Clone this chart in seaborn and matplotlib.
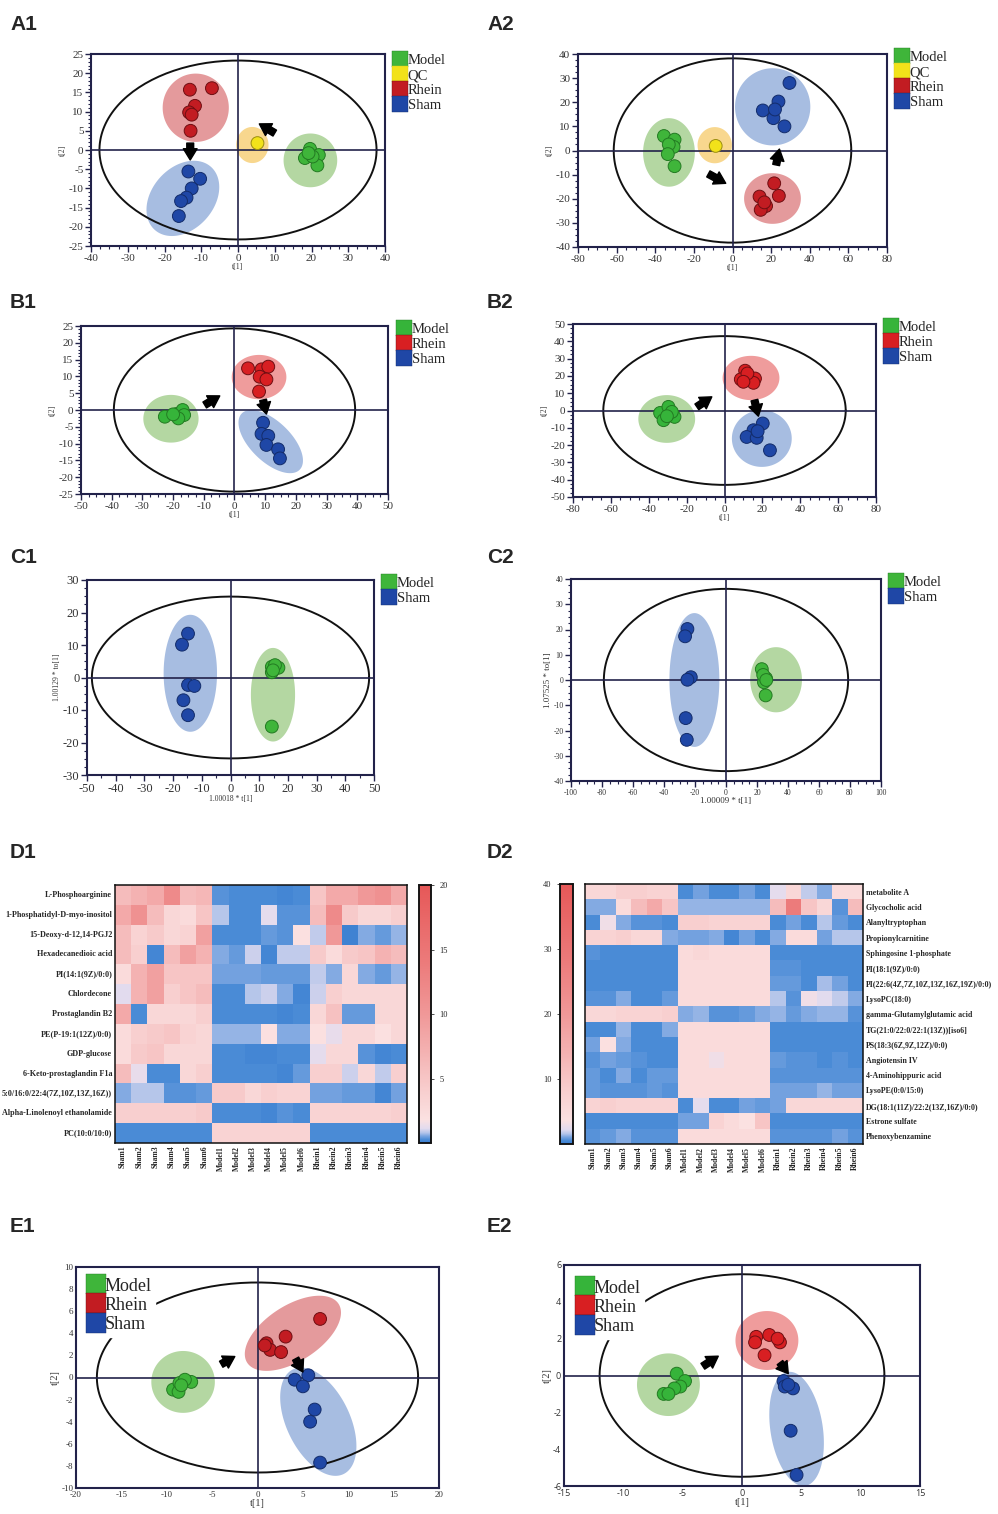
import numpy as np
import pandas as pd
import matplotlib
matplotlib.use("Agg")
import matplotlib.pyplot as plt
import seaborn as sns
from matplotlib.lines import Line2D
from matplotlib.colors import LinearSegmentedColormap
from matplotlib.ticker import MultipleLocator

sns.set_theme(style="white")
plt.rcParams["font.family"] = ["Liberation Serif", "DejaVu Serif"]
plt.rcParams["axes.unicode_minus"] = False

# ---------------- DATA ----------------
# score plots: (t1 values, t2 values)
a1_model = ([19.6, 22.0, 18.2, 21.6, 20.3, 19.2], [0.3, -1.3, -2.1, -4.0, -1.7, -0.8])
a1_qc = ([5.3], [1.8])
a1_rhein = ([-13.1, -7.1, -11.7, -13.3, -12.6, -12.9], [15.7, 16.1, 11.5, 9.8, 9.2, 5.0])
a1_sham = ([-13.5, -10.3, -12.6, -14.0, -15.5, -16.1], [-5.6, -7.5, -10.0, -12.4, -13.3, -17.2])

a2_model = ([-35.5, -30.0, -30.5, -33.0, -33.5, -30.0], [6.0, 4.5, 1.5, 2.5, -1.5, -6.5])
a2_qc = ([-8.7], [1.9])
a2_rhein = ([21.6, 14.0, 24.0, 17.4, 14.6, 16.5], [-13.6, -19.1, -18.8, -23.0, -24.6, -21.5])
a2_sham = ([29.5, 23.8, 15.7, 21.2, 26.9, 22.0], [28.0, 20.3, 16.6, 13.4, 10.0, 17.0])

b1_model = ([-22.7, -18.9, -16.9, -16.4, -18.3, -20.0], [-2.0, -1.2, 0.0, -1.5, -2.5, -1.3])
b1_rhein = ([4.4, 8.8, 11.0, 8.2, 10.4, 8.0], [12.4, 12.1, 12.9, 9.9, 9.1, 5.5])
b1_sham = ([9.3, 8.8, 11.0, 10.4, 14.2, 14.8], [-3.8, -7.1, -7.7, -10.4, -11.7, -14.4])

b2_model = ([-34.0, -29.6, -26.4, -32.2, -27.8, -30.4], [-1.4, 2.1, -3.7, -5.6, -0.8, -3.3])
b2_rhein = ([10.9, 8.6, 16.1, 15.3, 12.1, 10.0], [23.0, 18.0, 18.5, 16.0, 21.4, 16.6])
b2_sham = ([20.2, 15.3, 11.7, 17.0, 24.0, 17.5], [-7.5, -11.4, -15.3, -15.8, -23.0, -12.0])

c1_model = ([14.4, 16.7, 14.4, 15.5, 14.8, 14.4], [3.3, 3.0, 1.6, 3.8, 2.2, -15.1])
c1_sham = ([-14.8, -16.9, -14.8, -12.6, -16.4, -14.8], [13.5, 10.1, -2.3, -2.6, -7.0, -11.6])

c2_model = ([23.1, 25.8, 24.5, 25.6, 24.0, 26.0], [4.3, 0.7, -0.9, -6.1, 2.0, 0.0])
c2_sham = ([-24.9, -26.4, -22.7, -24.9, -26.0, -25.3], [20.2, 17.3, 1.1, 0.1, -15.1, -23.7])

e1_model = ([-9.3, -8.6, -7.3, -8.7, -8.0, -8.4], [-1.1, -0.5, -0.4, -1.3, -0.2, -0.7])
e1_rhein = ([6.9, 3.1, 1.0, 1.4, 2.6, 0.8], [5.3, 3.7, 3.1, 2.5, 2.3, 2.9])
e1_sham = ([5.6, 4.1, 5.0, 6.3, 5.8, 6.9], [0.2, -0.2, -0.8, -2.9, -4.0, -7.7])

e2_model = ([-5.5, -4.8, -5.2, -5.7, -6.6, -6.2], [0.1, -0.3, -0.6, -0.7, -1.0, -1.0])
e2_rhein = ([1.2, 2.3, 3.2, 1.1, 1.9, 3.0], [2.1, 2.2, 1.8, 1.8, 1.1, 2.0])
e2_sham = ([3.5, 3.6, 4.3, 4.1, 4.6, 3.9], [-0.3, -0.6, -0.7, -3.0, -5.4, -0.5])

# group confidence regions: (center t1, center t2, half-width, half-height, correlation)
a1_regions = {"Model": (19.7, -2.7, 7.3, 7.0, 0.0), "QC": (3.9, 1.3, 4.4, 4.7, 0.0),
              "Rhein": (-11.5, 11.0, 9.0, 8.9, 0.0), "Sham": (-15.0, -12.6, 9.9, 9.8, 0.3)}
a2_regions = {"Model": (-32.9, -0.8, 13.4, 14.2, 0.0), "QC": (-9.2, 2.2, 8.9, 7.5, 0.0),
              "Rhein": (20.7, -19.9, 14.7, 10.5, 0.0), "Sham": (20.8, 18.1, 19.5, 16.0, 0.0)}
b1_regions = {"Model": (-20.7, -2.6, 9.0, 7.1, 0.0), "Rhein": (8.0, 9.8, 8.9, 6.6, 0.0),
              "Sham": (11.8, -9.4, 10.5, 9.4, -0.6)}
b2_regions = {"Model": (-30.5, -4.9, 15.0, 13.8, 0.0), "Rhein": (14.0, 18.8, 15.0, 12.8, 0.0),
              "Sham": (19.7, -16.2, 15.8, 16.4, 0.0)}
c1_regions = {"Model": (14.8, -5.3, 7.7, 14.4, 0.0), "Sham": (-14.0, 1.3, 9.3, 18.0, 0.0)}
c2_regions = {"Model": (32.3, 0.1, 16.7, 12.9, 0.0), "Sham": (-20.4, 0.0, 16.1, 26.5, 0.0)}
e1_regions = {"Model": (-8.2, -0.4, 3.5, 2.8, 0.0), "Rhein": (3.9, 4.0, 5.3, 3.4, 0.55),
              "Sham": (6.7, -4.0, 4.2, 4.9, -0.45)}
e2_regions = {"Model": (-6.2, -0.5, 2.65, 1.7, 0.0), "Rhein": (2.1, 1.9, 2.65, 1.6, 0.0),
              "Sham": (4.6, -2.9, 2.3, 3.1, -0.25)}

# Hotelling T2 ellipse half-axes
a1_t2 = (37.7, 23.3)
a2_t2 = (61.5, 38.2)
b1_t2 = (39.3, 24.3)
b2_t2 = (64.0, 43.0)
c1_t2 = (48.3, 24.9)
c2_t2 = (78.8, 36.1)
e1_t2 = (17.7, 8.6)
e2_t2 = (12.0, 5.5)

# trend arrows: (from t1, from t2, to t1, to t2)
a1_arrows = [(-13.0, 1.8, -13.0, -2.6), (10.0, 4.4, 5.8, 6.8)]
a2_arrows = [(-12.5, -9.7, -3.5, -13.6), (22.6, -6.0, 24.3, 0.6)]
b1_arrows = [(-9.7, 1.5, -4.8, 4.2), (9.3, 3.0, 10.4, -1.2)]
b2_arrows = [(-14.6, 2.1, -6.7, 7.9), (15.8, 6.0, 17.9, -3.3)]
e1_arrows = [(-4.0, 1.2, -2.5, 1.9), (4.2, 1.7, 5.0, 0.5)]
e2_arrows = [(-3.3, 0.5, -2.0, 1.05), (3.2, 0.7, 3.9, 0.1)]

# heatmaps
samples = ["Sham1", "Sham2", "Sham3", "Sham4", "Sham5", "Sham6",
           "Model1", "Model2", "Model3", "Model4", "Model5", "Model6",
           "Rhein1", "Rhein2", "Rhein3", "Rhein4", "Rhein5", "Rhein6"]
d1_metabolites = ["L-Phosphoarginine", "1-Phosphatidyl-D-myo-inositol", "15-Deoxy-d-12,14-PGJ2",
                  "Hexadecanedioic acid", "PI(14:1(9Z)/0:0)", "Chlordecone", "Prostaglandin B2",
                  "PE(P-19:1(12Z)/0:0)", "GDP-glucose", "6-Keto-prostaglandin F1a",
                  "5:0/16:0/22:4(7Z,10Z,13Z,16Z))", "Alpha-Linolenoyl ethanolamide", "PC(10:0/10:0)"]
d1_values = [
    [6, 7, 8, 12, 6, 6.5, 0.35, 0.3, 0.3, 0.25, 0.2, 0.25, 5, 8, 8, 10, 11, 8],
    [8, 11, 6, 3, 2.5, 5, 0.8, 0.3, 0.25, 1.2, 0.35, 0.35, 6, 12, 4.5, 3, 3, 4],
    [6, 3.5, 4.5, 3, 3.5, 9, 0.25, 0.3, 0.3, 0.4, 0.35, 2, 0.9, 10, 0.15, 0.55, 0.4, 0.7],
    [6, 4, 0.2, 6, 9, 7, 0.55, 0.45, 1.0, 0.2, 0.9, 0.9, 4.5, 2.5, 4.5, 5, 7, 6],
    [2.5, 7, 9, 5, 5, 5, 0.5, 0.5, 0.5, 0.45, 0.4, 0.4, 0.9, 0.55, 3, 0.6, 0.45, 0.7],
    [1.1, 7, 9, 4, 5, 6, 0.25, 0.25, 0.8, 1.0, 0.55, 0.2, 1.0, 4, 3, 3, 3, 3],
    [8, 0.25, 3, 3, 3, 4, 0.3, 0.3, 0.3, 0.25, 0.2, 0.3, 3, 5.5, 0.4, 0.4, 3, 3],
    [2.5, 4, 4.5, 5, 3.5, 3, 0.65, 0.7, 0.65, 2, 0.6, 0.55, 2, 1.3, 3, 3, 2, 3],
    [2.5, 4.5, 5, 3, 3, 3, 0.25, 0.25, 0.22, 0.22, 0.25, 0.3, 1.2, 3, 3, 0.35, 0.2, 0.25],
    [6, 1.3, 0.25, 0.25, 3, 4, 0.3, 0.3, 0.3, 0.25, 0.2, 0.45, 4, 4, 1.0, 3, 0.9, 4],
    [0.55, 0.8, 0.8, 0.35, 0.35, 0.4, 4.5, 4.5, 3, 4, 3.5, 3.5, 0.5, 0.5, 0.45, 0.45, 0.2, 0.5],
    [4, 4, 4, 4, 4, 4.5, 0.3, 0.3, 0.3, 0.2, 0.35, 0.3, 3.5, 3.5, 3.5, 3.5, 3.5, 4],
    [0.25, 0.25, 0.25, 0.3, 0.25, 0.25, 3.5, 3.5, 3.5, 3.5, 3.5, 3.5, 0.25, 0.25, 0.25, 0.25, 0.25, 0.25],
]
d2_metabolites = ["metabolite A", "Glycocholic acid", "Alanyltryptophan", "Propionylcarnitine",
                  "Sphingosine 1-phosphate", "PI(18:1(9Z)/0:0)", "PI(22:6(4Z,7Z,10Z,13Z,16Z,19Z)/0:0)",
                  "LysoPC(18:0)", "gamma-Glutamylglutamic acid", "TG(21:0/22:0/22:1(13Z))[iso6]",
                  "PS(18:3(6Z,9Z,12Z)/0:0)", "Angiotensin IV", "4-Aminohippuric acid", "LysoPE(0:0/15:0)",
                  "DG(18:1(11Z)/22:2(13Z,16Z)/0:0)", "Estrone sulfate", "Phenoxybenzamine"]
d2_values = [
    [6, 6, 8, 8, 7, 7, 0.6, 1.0, 0.5, 0.5, 1.0, 0.5, 2.4, 6, 1.8, 1.2, 5, 5],
    [1.2, 1.2, 5, 12, 16, 10, 1.4, 1.4, 1.4, 1.4, 1.4, 1.4, 12, 28, 10, 6, 0.7, 12],
    [0.5, 3, 1.1, 0.7, 0.7, 0.6, 8, 8, 7, 7, 7, 7, 0.6, 1.0, 0.5, 1.6, 0.8, 0.6],
    [7, 7, 8, 6, 6, 1.1, 1.0, 1.0, 1.1, 0.4, 1.0, 0.5, 1.1, 5, 5, 1.0, 1.6, 1.6],
    [0.7, 0.6, 0.6, 0.6, 0.6, 0.6, 5, 6, 5, 5, 5, 5, 0.6, 0.6, 0.6, 0.5, 0.6, 0.6],
    [0.6, 0.6, 0.6, 0.6, 0.6, 0.6, 5, 5, 5, 5, 5, 5, 0.7, 0.7, 0.6, 0.6, 0.6, 0.6],
    [0.6, 0.6, 0.6, 0.6, 0.6, 0.6, 5, 5, 5, 5, 5, 5, 0.9, 0.9, 0.6, 1.5, 1.0, 0.6],
    [0.7, 0.7, 1.1, 0.6, 0.6, 0.9, 5, 5, 5, 5, 5, 5, 1.6, 0.7, 3, 2.2, 1.8, 1.2],
    [6, 6, 7, 7, 7, 8, 1.1, 1.4, 0.7, 0.7, 0.9, 1.1, 1.4, 0.8, 1.2, 1.4, 1.4, 0.7],
    [0.6, 0.6, 1.4, 0.6, 0.6, 1.1, 5, 5, 5, 5, 5, 5, 0.6, 0.6, 0.6, 0.6, 0.6, 0.6],
    [1.0, 4, 1.2, 0.6, 0.6, 0.6, 5, 5, 5, 5, 5, 5, 0.6, 0.6, 0.6, 0.6, 0.6, 0.6],
    [0.7, 1.0, 0.8, 0.7, 0.6, 0.6, 5, 5, 3, 5, 5, 5, 0.9, 0.7, 0.7, 0.6, 0.7, 0.6],
    [0.9, 0.6, 1.2, 0.6, 0.8, 0.9, 5, 5, 5, 5, 5, 5, 0.7, 0.7, 0.7, 0.7, 0.7, 0.7],
    [0.8, 0.7, 0.7, 0.7, 0.8, 0.7, 5, 5, 5, 5, 5, 5, 1.0, 1.0, 1.0, 1.4, 1.0, 1.0],
    [7, 8, 7, 7, 7, 7, 0.6, 2.4, 0.6, 0.6, 1.0, 0.8, 1.0, 6, 6, 6, 6, 6],
    [0.6, 0.6, 0.6, 0.6, 0.6, 0.6, 1.0, 1.0, 7, 5, 3.6, 10, 0.6, 0.6, 0.6, 0.6, 0.6, 0.6],
    [0.7, 0.8, 1.2, 0.7, 0.7, 0.7, 5, 5, 5, 5, 5, 5, 0.7, 0.7, 0.7, 0.7, 1.0, 0.7],
]

# ---------------- STYLE ----------------
W, H = 998, 1514
fig = plt.figure(figsize=(W / 100, H / 100), dpi=100)
NAVY = "#22224a"
POINT = {"Model": "#3fb53a", "QC": "#f2e21a", "Rhein": "#c21c22", "Sham": "#1f47a6"}
POINT_B = {"Model": "#36b43a", "Rhein": "#d81f22", "Sham": "#1f47a6"}
EDGE = {"Model": "#237a22", "QC": "#9a8d10", "Rhein": "#6e0e12", "Sham": "#132c6a"}
SHADE = {"Model": "#b4d7a2", "QC": "#f8d78e", "Rhein": "#e49a9c", "Sham": "#a7bde1"}
SHADE_B = {"Model": "#b4d7a2", "Rhein": "#ef9c9c", "Sham": "#a7bde1"}


def rect(l, r, t, b):
    return [l / W, 1 - b / H, (r - l) / W, (b - t) / H]


def region_curve(cx, cy, sx, sy, rho):
    t = np.linspace(0, 2 * np.pi, 200)
    x = cx + sx * np.cos(t)
    y = cy + sy * (rho * np.cos(t) + np.sqrt(1 - rho ** 2) * np.sin(t))
    return x, y


def score_panel(pos, groups, regions, t2, arrows, xlim, ylim, xmaj, ymaj, xminor, yminor,
                palette, shades, leg_pos, xlabel="t[1]", ylabel="t[2]", leg_white=False,
                ticks=True, label_size=5.5, tick_font=None, tick_size=8, leg_size=10.5,
                leg_marker=11.5):
    ax = fig.add_axes(rect(*pos))
    frames = []
    for g, (xs, ys) in groups.items():
        frames.append(pd.DataFrame({"t1": xs, "t2": ys, "group": g}))
    df = pd.concat(frames, ignore_index=True)
    for g, (cx, cy, sx, sy, rho) in regions.items():
        ex, ey = region_curve(cx, cy, sx, sy, rho)
        ax.fill(ex, ey, color=shades[g], lw=0, zorder=1)
    ex, ey = region_curve(0, 0, t2[0], t2[1], 0)
    ax.plot(ex, ey, color="#111111", lw=1.4, zorder=2)
    ax.axhline(0, color=NAVY, lw=1.2, zorder=2)
    ax.axvline(0, color=NAVY, lw=1.2, zorder=2)
    sns.scatterplot(data=df, x="t1", y="t2", hue="group", palette=palette, s=85,
                    edgecolor=[EDGE[g] for g in df["group"]], linewidth=0.7,
                    legend=False, ax=ax, zorder=3)
    for (x0, y0, x1, y1) in arrows:
        ax.annotate("", xy=(x1, y1), xytext=(x0, y0),
                    arrowprops=dict(arrowstyle="simple,head_width=1.1,head_length=0.9,tail_width=0.55",
                                    color="black", mutation_scale=9, shrinkA=0, shrinkB=0),
                    zorder=4)
    ax.set_xlim(*xlim)
    ax.set_ylim(*ylim)
    ax.xaxis.set_major_locator(MultipleLocator(xmaj))
    ax.yaxis.set_major_locator(MultipleLocator(ymaj))
    if ticks:
        ax.xaxis.set_minor_locator(MultipleLocator(xminor))
        ax.yaxis.set_minor_locator(MultipleLocator(yminor))
        ax.tick_params(which="major", direction="out", length=4, width=1.0, color=NAVY,
                       bottom=True, left=True, pad=1.5, labelsize=tick_size)
        ax.tick_params(which="minor", direction="out", length=2.5, width=0.8, color=NAVY,
                       bottom=True, left=True)
    else:
        ax.tick_params(which="major", length=0, pad=2, labelsize=tick_size)
    for lab in ax.get_xticklabels() + ax.get_yticklabels():
        lab.set_color("#333333")
        if tick_font:
            lab.set_family(tick_font)
    for sp in ax.spines.values():
        sp.set_color(NAVY)
        sp.set_linewidth(1.5)
        sp.set_visible(True)
    ax.set_xlabel(xlabel, fontsize=label_size, labelpad=0.5, color="#333333")
    ax.set_ylabel(ylabel, fontsize=label_size, labelpad=1, color="#333333")
    handles = [Line2D([0], [0], marker="s", ls="", markersize=leg_marker, markerfacecolor=palette[g],
                      markeredgecolor=EDGE[g] if g != "QC" else "#d8c820", markeredgewidth=0.3)
               for g in groups]
    leg = ax.legend(handles, list(groups.keys()), loc="upper left",
                    bbox_to_anchor=(leg_pos[0] / W, 1 - leg_pos[1] / H),
                    bbox_transform=fig.transFigure, frameon=leg_white, borderaxespad=0,
                    borderpad=0.2, handlelength=0.9, handletextpad=0.05, labelspacing=0.12,
                    fontsize=leg_size)
    if leg_white:
        leg.get_frame().set_facecolor("white")
        leg.get_frame().set_edgecolor("white")
        leg.get_frame().set_alpha(1)
        leg.set_zorder(5)
    return ax


score_panel((91, 385, 54, 246), {"Model": a1_model, "QC": a1_qc, "Rhein": a1_rhein, "Sham": a1_sham},
            a1_regions, a1_t2, a1_arrows, (-40, 40), (-25, 25), 10, 5, 2.5, 1,
            POINT, SHADE, (391, 51))
score_panel((578, 887, 54, 247), {"Model": a2_model, "QC": a2_qc, "Rhein": a2_rhein, "Sham": a2_sham},
            a2_regions, a2_t2, a2_arrows, (-80, 80), (-40, 40), 20, 10, 5, 2.5,
            POINT, SHADE, (893, 48))
score_panel((81, 388, 326, 494), {"Model": b1_model, "Rhein": b1_rhein, "Sham": b1_sham},
            b1_regions, b1_t2, b1_arrows, (-50, 50), (-25, 25), 10, 5, 2.5, 1,
            POINT_B, SHADE_B, (395, 320))
score_panel((573, 876, 324, 497), {"Model": b2_model, "Rhein": b2_rhein, "Sham": b2_sham},
            b2_regions, b2_t2, b2_arrows, (-80, 80), (-50, 50), 20, 10, 5, 2.5,
            POINT_B, SHADE_B, (882, 318))
score_panel((87, 374, 580, 775), {"Model": c1_model, "Sham": c1_sham},
            c1_regions, c1_t2, [], (-50, 50), (-30, 30), 10, 10, 5, 2.5,
            POINT, SHADE, (380, 574), xlabel="1.00018 * t[1]", ylabel="1.00129 * to[1]",
            tick_size=9)
score_panel((571, 881, 579, 781), {"Model": c2_model, "Sham": c2_sham},
            c2_regions, c2_t2, [], (-100, 100), (-40, 40), 20, 10, 5, 2.5,
            POINT, SHADE, (887, 573), xlabel="1.00009 * t[1]", ylabel="1.07525 * to[1]",
            tick_size=5.5, label_size=6.5)
score_panel((76, 439, 1267, 1488), {"Model": e1_model, "Rhein": e1_rhein, "Sham": e1_sham},
            e1_regions, e1_t2, e1_arrows, (-20, 20), (-10, 10), 5, 2, 5, 2,
            POINT, SHADE, (84, 1274), leg_white=True, ticks=False, label_size=7.5, tick_size=6.5,
            leg_size=13, leg_marker=14)
score_panel((564, 920, 1265, 1486), {"Model": e2_model, "Rhein": e2_rhein, "Sham": e2_sham},
            e2_regions, e2_t2, e2_arrows, (-15, 15), (-6, 6), 5, 2, 5, 2,
            POINT_B, SHADE_B, (573, 1276), leg_white=True, ticks=False, label_size=7.5,
            tick_size=6.5, tick_font="Open Sans", leg_size=13, leg_marker=14)

# ---------------- HEATMAPS ----------------
cmap = LinearSegmentedColormap.from_list("bwr_custom", [
    (0.0, "#3a7ed0"), (0.012, "#4a8bd6"), (0.025, "#78a4e0"), (0.038, "#b3c4ea"),
    (0.055, "#e2dbee"), (0.09, "#fbe1e1"), (0.2, "#f8cfcf"), (0.35, "#f4b2b2"),
    (0.5, "#f09898"), (0.7, "#ec7b7b"), (1.0, "#e65858")])

ax_d1 = fig.add_axes(rect(115, 407, 885, 1143))
cax_d1 = fig.add_axes(rect(419, 431, 885, 1143))
df_d1 = pd.DataFrame(d1_values, index=d1_metabolites, columns=samples)
sns.heatmap(df_d1, cmap=cmap, vmin=0, vmax=20, ax=ax_d1, cbar_ax=cax_d1,
            xticklabels=True, yticklabels=True)
ax_d1.tick_params(axis="both", length=0, pad=2)
ax_d1.set_yticklabels(d1_metabolites, fontsize=5.9, fontweight="bold", rotation=0)
ax_d1.set_xticklabels(samples, fontsize=5.6, fontweight="bold", rotation=90)
cax_d1.set_yticks([5, 10, 15, 20])
cax_d1.tick_params(labelsize=6, length=2, width=0.6, pad=4, right=True, color="#333333")

ax_d2 = fig.add_axes(rect(585, 863, 884, 1144))
cax_d2 = fig.add_axes(rect(560, 573, 884, 1144))
df_d2 = pd.DataFrame(d2_values, index=d2_metabolites, columns=samples)
sns.heatmap(df_d2, cmap=cmap, vmin=0, vmax=40, ax=ax_d2, cbar_ax=cax_d2,
            xticklabels=True, yticklabels=True)
ax_d2.yaxis.tick_right()
ax_d2.tick_params(axis="both", length=0, pad=2)
ax_d2.set_yticklabels(d2_metabolites, fontsize=5.7, fontweight="bold", rotation=0, ha="left")
ax_d2.set_xticklabels(samples, fontsize=5.6, fontweight="bold", rotation=90)
cax_d2.set_yticks([10, 20, 30, 40])
cax_d2.yaxis.set_ticks_position("left")
cax_d2.tick_params(labelsize=6, length=2, width=0.6, pad=4, left=True, color="#333333")

for a in (ax_d1, ax_d2, cax_d1, cax_d2):
    for sp in a.spines.values():
        sp.set_visible(True)
        sp.set_color("#111111")
        sp.set_linewidth(1.1)

# ---------------- PANEL LABELS ----------------
panel_labels = [("A1", 10, 25), ("A2", 487, 25), ("B1", 10, 302), ("B2", 487, 302),
                ("C1", 10, 557), ("C2", 487, 557), ("D1", 10, 852), ("D2", 487, 852),
                ("E1", 10, 1226), ("E2", 487, 1226)]
for txt, x, y in panel_labels:
    fig.text(x / W, 1 - y / H, txt, fontsize=15, fontweight="bold", family="Liberation Sans",
             va="center", ha="left")

fig.savefig("out.png", dpi=100)
